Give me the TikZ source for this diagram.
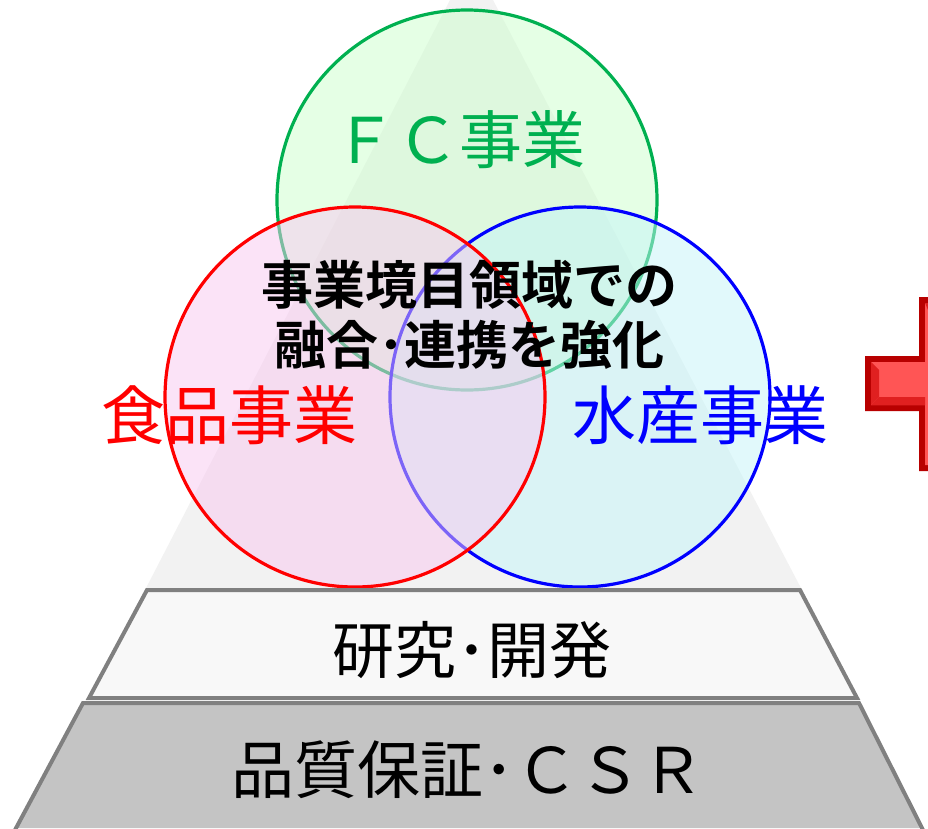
\documentclass[tikz,border=0pt]{standalone}
\usepackage{fontspec}
\newfontfamily\jp{Noto Sans CJK JP}
\newfontfamily\jpb{Noto Sans CJK JP Bold}
\definecolor{tri}{HTML}{F2F2F2}
\definecolor{layerA}{HTML}{F8F8F8}
\definecolor{layerB}{HTML}{C4C4C4}
\definecolor{edge}{HTML}{808080}
\definecolor{fcg}{HTML}{00B050}
\definecolor{fcfill}{HTML}{CCFFCC}
\definecolor{pinkfill}{HTML}{F8C8F0}
\definecolor{cyanfill}{HTML}{C4F4F8}
\definecolor{crossdark}{HTML}{B80000}
\definecolor{crossmid}{HTML}{E02020}
\definecolor{crosslight}{HTML}{FF5555}
\tikzset{
  ring/.style={circle, minimum size=380pt, inner sep=0pt, line width=3.2pt, fill opacity=0.5},
  layer/.style={draw=edge, line width=4pt, line join=miter},
  lbl/.style={font=\jp\fontsize{64}{76}\selectfont, inner sep=0pt},
}
\begin{document}
\begin{tikzpicture}[x=1pt,y=-1pt]
\useasboundingbox (0,0) rectangle (928,828);
% faint background triangle
\fill[tri] (450,0) -- (493,0) -- (802,590) -- (145,590) -- cycle;
% circles
\node[ring, draw=fcg, fill=fcfill] (fc) at (467,200) {};
\node[ring, draw=blue, fill=cyanfill] (sui) at (580,397) {};
\node[ring, draw=red, fill=pinkfill] (shoku) at (355,397) {};
% labels
\node[lbl, text=fcg, font=\jp\fontsize{63}{76}\selectfont] (tfc) at (459,140) {ＦＣ事業};
\node[lbl, text=red] (tshoku) at (229,415) {食品事業};
\node[lbl, text=blue] (tsui) at (700,415) {水産事業};
\node[font=\jpb\fontsize{52}{60}\selectfont, align=center, inner sep=0pt] (tcenter) at (469,315) {事業境目領域での\\融合･連携を強化};
% pyramid layers
\fill[layerB] (83,703) -- (859,703) -- (923,828) -- (15,828) -- cycle;
\draw[layer] (15,830) -- (83,703) -- (859,703) -- (923,830);
\draw[layer, fill=layerA] (147,590) -- (800,590) -- (857,698) -- (89,698) -- cycle;
\node[lbl, font=\jp\fontsize{62}{74}\selectfont] (lab1) at (472,650) {研究･開発};
\node[lbl, font=\jp\fontsize{63}{76}\selectfont] (lab2) at (468,770) {品質保証･ＣＳＲ};
% red cross (partial, at right edge)
\begin{scope}
\clip (850,280) rectangle (928,480);
\fill[crossdark] (919,297) -- (960,297) -- (960,356) -- (990,356) -- (990,411) -- (960,411) -- (960,471) -- (919,471) -- (919,411) -- (865,411) -- (865,356) -- (919,356) -- cycle;
\fill[crosslight] (925,303) -- (960,303) -- (960,362) -- (990,362) -- (990,405) -- (960,405) -- (960,465) -- (925,465) -- (925,405) -- (871,405) -- (871,362) -- (925,362) -- cycle;
\fill[crossmid] (871,362) -- (879,370) -- (879,397) -- (871,405) -- cycle;
\fill[crossmid] (871,405) -- (879,397) -- (925,397) -- (925,405) -- cycle;
\fill[crossmid] (925,303) -- (928,303) -- (928,310) -- cycle;
\end{scope}
\end{tikzpicture}
\end{document}
